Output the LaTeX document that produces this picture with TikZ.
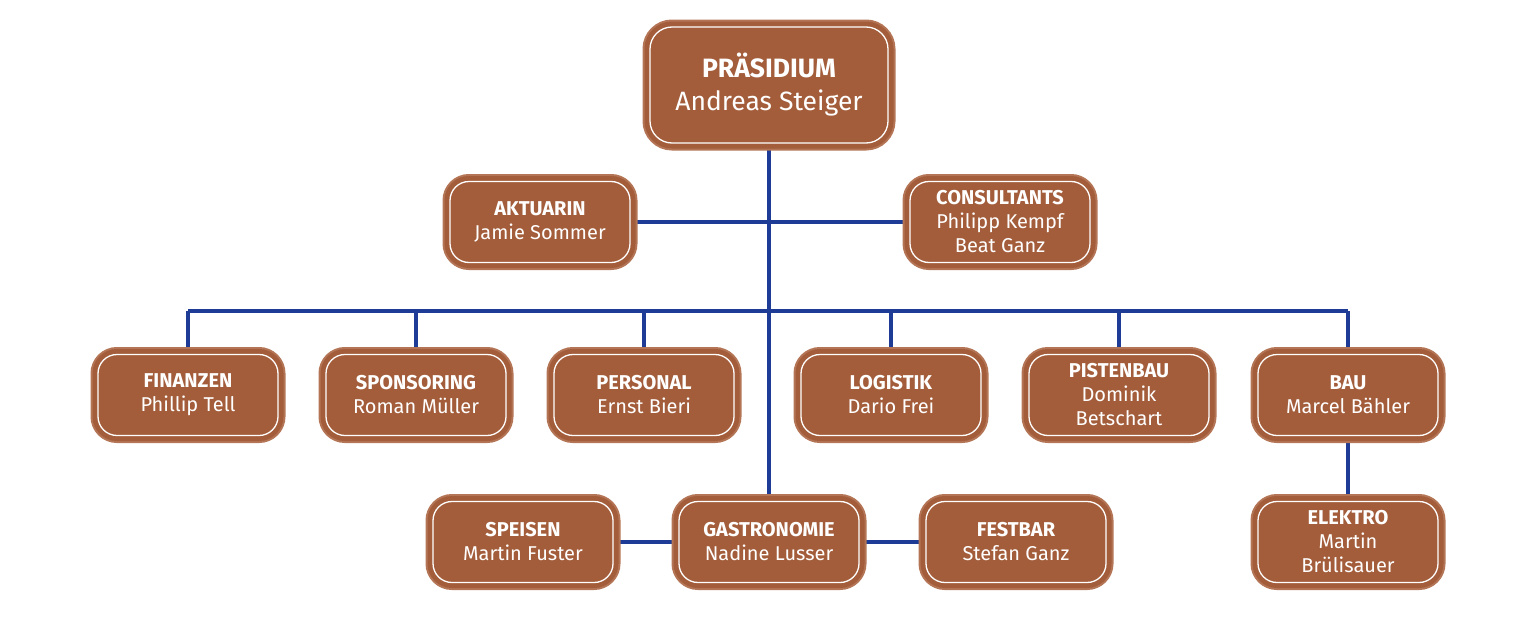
\documentclass[tikz,border=0pt]{standalone}
\usepackage{fontspec}
\setmainfont{Fira Sans}
\usepackage{xcolor}
\usepackage{tikz}
\usetikzlibrary{backgrounds}
\definecolor{rust}{HTML}{A35D3B}
\definecolor{rustedge}{HTML}{B47556}
\definecolor{linkblue}{HTML}{1E3C96}
\tikzstyle{unit}=[draw=white, line width=1.3pt, fill=rust, rounded corners=19pt,
    preaction={draw=rustedge, line width=15pt}, preaction={draw=rust, line width=11pt},
    text=white, align=center, minimum width=180pt, minimum height=81pt, inner sep=0pt,
    font=\fontsize{20}{24}\selectfont]
\tikzstyle{link}=[draw=linkblue, line width=3.2pt]

\begin{document}
\begin{tikzpicture}[x=1pt, y=-1pt]
        \useasboundingbox (0,0) rectangle (1536,621);
        \node[unit, minimum width=238pt, minimum height=116pt, rounded corners=22pt,
              font=\fontsize{26.5}{33}\selectfont] (praes) at (769,85) {\textbf{PRÄSIDIUM}\\Andreas Steiger};
        \node[unit] (aktuarin) at (540,222) {\textbf{AKTUARIN}\\Jamie Sommer};
        \node[unit] (consult) at (1000,222) {\textbf{CONSULTANTS}\\Philipp Kempf\\Beat Ganz};
        \node[unit] (finanzen) at (188,395) {\textbf{FINANZEN}\\Phillip Tell};
        \node[unit] (sponsoring) at (416,395) {\textbf{SPONSORING}\\Roman Müller};
        \node[unit] (personal) at (644,395) {\textbf{PERSONAL}\\Ernst Bieri};
        \node[unit] (logistik) at (891,395) {\textbf{LOGISTIK}\\Dario Frei};
        \node[unit] (pistenbau) at (1119,395) {\textbf{PISTENBAU}\\Dominik\\Betschart};
        \node[unit] (bau) at (1348,395) {\textbf{BAU}\\Marcel Bähler};
        \node[unit] (speisen) at (523,542) {\textbf{SPEISEN}\\Martin Fuster};
        \node[unit] (gastro) at (769,542) {\textbf{GASTRONOMIE}\\Nadine Lusser};
        \node[unit] (festbar) at (1016,542) {\textbf{FESTBAR}\\Stefan Ganz};
        \node[unit] (elektro) at (1348,542) {\textbf{ELEKTRO}\\Martin\\Brülisauer};
        \coordinate (bus) at (769,311);
        \begin{scope}[on background layer]
            \draw[link] (praes.south) -- (gastro.north);
            \draw[link] (aktuarin.east) -- (consult.west);
            \draw[link] (finanzen.north |- bus) -- (bau.north |- bus);
            \foreach \n in {finanzen,sponsoring,personal,logistik,pistenbau,bau} {
                \draw[link] (\n.north) -- (\n.north |- bus);
            }
            \draw[link] (speisen.east) -- (gastro.west);
            \draw[link] (gastro.east) -- (festbar.west);
            \draw[link] (bau.south) -- (elektro.north);
        \end{scope}
    \end{tikzpicture}
\end{document}
